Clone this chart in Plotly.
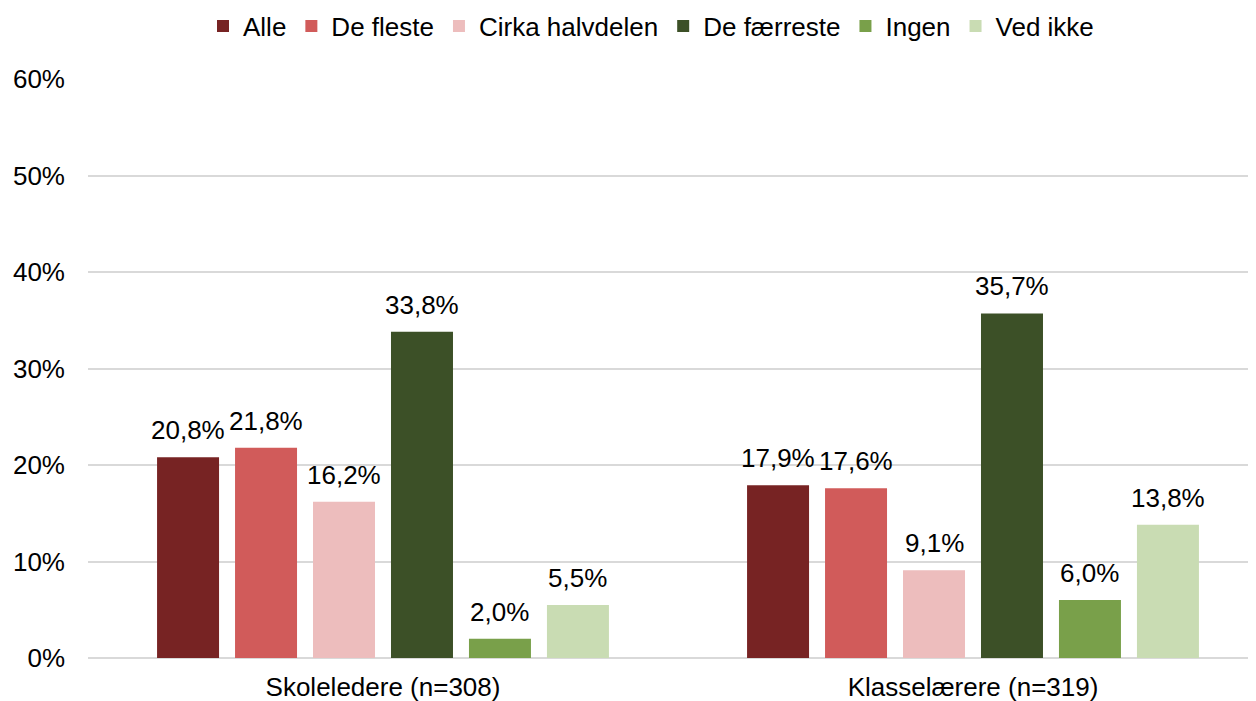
import plotly.graph_objects as go

categories = ["Skoleledere (n=308)", "Klasselærere (n=319)"]
series_names = ["Alle", "De fleste", "Cirka halvdelen", "De færreste", "Ingen", "Ved ikke"]
alle = [20.8, 17.9]
de_fleste = [21.8, 17.6]
cirka_halvdelen = [16.2, 9.1]
de_faerreste = [33.8, 35.7]
ingen = [2.0, 6.0]
ved_ikke = [5.5, 13.8]
colors = ["#772323", "#D15B5A", "#EDBDBD", "#3C5027", "#79A04A", "#C9DCB3"]
y_ticks = [0, 10, 20, 30, 40, 50, 60]
y_tick_labels = ["0%", "10%", "20%", "30%", "40%", "50%", "60%"]

values = [alle, de_fleste, cirka_halvdelen, de_faerreste, ingen, ved_ikke]

FONT = "Liberation Sans, Arial, sans-serif"
FS = 26
W, H = 1260, 693  # page body has an 8px margin; plot area runs slightly past the right edge
L, R, T, B = 80, 0, 71, 43
BARGAP, GROUPGAP = 0.207, 0.205

fig = go.Figure()
for name, vals, col in zip(series_names, values, colors):
    fig.add_trace(go.Bar(
        x=categories, y=vals, name=name,
        marker=dict(color=col, line=dict(width=0)),
        cliponaxis=False,
    ))

# value labels: anchored at each bar's value, shifted sideways to its slot in the group
n = len(series_names)
cat_px = (W - L - R) / len(categories)
slot_px = cat_px * (1 - BARGAP) / n
for j, vals in enumerate(values):
    for cat, v in zip(categories, vals):
        fig.add_annotation(
            x=cat, y=v, xref="x", yref="y",
            text=f"{v:.1f}%".replace(".", ","),
            showarrow=False, xanchor="center", yanchor="bottom",
            xshift=(j - (n - 1) / 2) * slot_px, yshift=10,
            font=dict(size=FS, family=FONT, color="#000000"),
        )

fig.update_layout(
    width=W, height=H,
    margin=dict(l=L, r=R, t=T, b=B, autoexpand=False),
    paper_bgcolor="white", plot_bgcolor="white",
    separators=",.",
    barmode="group", bargap=BARGAP, bargroupgap=GROUPGAP,
    font=dict(family=FONT, size=FS, color="#000000"),
    legend=dict(orientation="h", x=643/W, xanchor="center", xref="container",
                y=1 - 18/H, yanchor="middle", yref="container",
                font=dict(size=FS, family=FONT), itemwidth=30,
                tracegroupgap=0, traceorder="normal"),
    xaxis=dict(showline=False, ticks="", tickfont=dict(size=FS), automargin=False,
               ticklabelstandoff=11),
    yaxis=dict(range=[0, 60], tickvals=y_ticks, ticktext=y_tick_labels, showgrid=True,
               gridcolor="#D9D9D9", gridwidth=1.5, zeroline=True, zerolinecolor="#D9D9D9",
               zerolinewidth=1.5, tickfont=dict(size=FS), ticklabelstandoff=22,
               automargin=False),
)
fig.write_html("out.html")
